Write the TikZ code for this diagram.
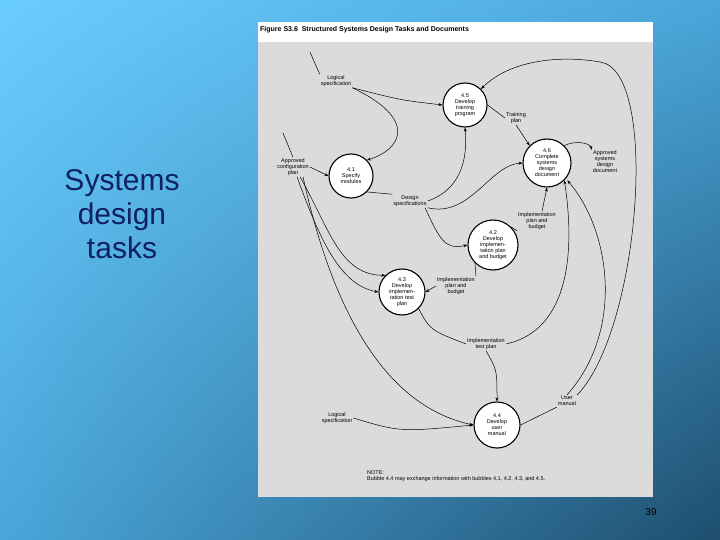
\documentclass[tikz,border=0pt]{standalone}
\usepackage{fontspec}
\setmainfont{Liberation Sans}
\usetikzlibrary{arrows.meta,shadings}
\definecolor{bgA}{HTML}{6ACDFF}
\definecolor{bgB}{HTML}{4AA6DA}
\definecolor{bgC}{HTML}{1E4E6E}
\definecolor{sidetxt}{HTML}{102060}
\begin{document}
\begin{tikzpicture}[x=1pt,y=-1pt,
 bub/.style={circle,draw,line width=1.1pt,fill=white,align=center,font=\fontsize{5.5}{6}\selectfont,inner sep=0pt},
 lab/.style={align=center,font=\fontsize{5.5}{6}\selectfont,inner sep=1pt},
 fl/.style={draw,line width=0.5pt,-{Stealth[length=4pt,width=3pt]}},
 ln/.style={draw,line width=0.5pt}]
\shade[upper left=bgA, upper right=bgB, lower left=bgB, lower right=bgC] (0,0) rectangle (720,540);
\useasboundingbox (0,0) rectangle (720,540);
\fill[white] (258,22) rectangle (653,42);
\fill[gray!28] (258,42) rectangle (653,497);
\node[anchor=west,font=\bfseries\fontsize{7}{8}\selectfont,inner sep=0pt] (title) at (260,30) {Figure S3.6\ \ Structured Systems Design Tasks and Documents};
\node[font=\fontsize{30}{34}\selectfont,align=center,text=sidetxt] (side) at (122,214) {Systems\\design\\tasks};
\node[font=\fontsize{10}{12}\selectfont] (pg) at (651,512) {39};
% bubbles
\node[bub,minimum size=44pt] (b45) at (465,105) {4.5\\Develop\\training\\program};
\node[bub,minimum size=48pt] (b46) at (547,163) {4.6\\Complete\\systems\\design\\document};
\node[bub,minimum size=44pt] (b41) at (351,176) {4.1\\Specify\\modules};
\node[bub,minimum size=50pt] (b42) at (493,245) {4.2\\Develop\\implemen-\\tation plan\\and budget};
\node[bub,minimum size=46pt] (b43) at (402,292) {4.3\\Develop\\implemen-\\tation test\\plan};
\node[bub,minimum size=46pt] (b44) at (497,425) {4.4\\Develop\\user\\manual};
% labels
\node[lab] (ls1) at (336,81) {Logical\\specification};
\node[lab] (tp) at (516,118) {Training\\plan};
\node[lab] (asd) at (605,162) {Approved\\systems\\design\\document};
\node[lab] (acp) at (293,167) {Approved\\configuration\\plan};
\node[lab] (ds) at (410,201) {Design\\specifications};
\node[lab] (ipb1) at (537,221) {Implementation\\plan and\\budget};
\node[lab] (ipb2) at (456,286) {Implementation\\plan and\\budget};
\node[lab] (itp) at (486,344) {Implementation\\test plan};
\node[lab] (um) at (567,401) {User\\manual};
\node[lab] (ls2) at (337,418) {Logical\\specification};
\node[lab,anchor=north west,align=left] (note) at (366,469) {NOTE:\\Bubble 4.4 may exchange information with bubbles 4.1, 4.2, 4.3, and 4.5.};
\coordinate (e1) at (310,52);
\coordinate (e2) at (283,133);
% connectors
\draw[ln] (e1) -- (ls1.north west);
\draw[fl] (ls1.south east) .. controls (400,100) .. (b45.west);
\draw[fl] (ls1.south east) .. controls (420,120) and (400,150) .. (b41.north east);
\draw[ln] (e2) -- (acp.north);
\draw[fl] (acp.east) -- (b41.west);
\draw[fl] (acp.south) ++(4,0) .. controls (320,240) and (340,285) .. (b43.west);
\draw[fl] (acp.south) ++(7,0) .. controls (330,230) and (340,275) .. (b43.north west);
\draw[fl] (acp.south) ++(10,0) .. controls (330,300) and (380,405) .. (b44.west);
\draw[ln] (b41.south east) -- (ds.north west);
\draw[fl] (ds.east) .. controls (460,190) and (468,160) .. (b45.south);
\draw[fl] (ds.south east) .. controls (470,218) and (490,165) .. (b46.west);
\draw[fl] (ds.south) ++(15,0) .. controls (440,240) and (445,250) .. (b42.west);
\draw[ln] (b45.east) -- (tp.west);
\draw[fl] (tp.south) -- (b46.north west);
\draw[fl] (b46.north east) .. controls (575,140) and (590,143) .. (asd.north west);
\draw[ln] (b42.north east) -- (ipb1.south west);
\draw[fl] (ipb1.north) ++(5,0) -- (b46.south);
\draw[ln] (b42.south west) -- (ipb2.north east);
\draw[fl] (ipb2.west) -- (b43.east);
\draw[ln] (b43.south east) .. controls (430,330) .. (itp.west);
\draw[fl] (itp.east) .. controls (570,330) and (575,250) .. (b46.south east);
\draw[fl] (itp.south) .. controls (497,370) .. (b44.north);
\draw[fl] (ls2.east) .. controls (400,432) .. (b44.west);
\draw[ln] (b44.east) -- (um.south west);
\draw[fl] (um.north) .. controls (625,330) and (610,230) .. ([xshift=3pt]b46.south east);
\draw[fl] (um.north east) .. controls (640,330) and (660,70) .. (600,62) .. controls (560,55) and (510,60) .. (b45.north east);
\end{tikzpicture}
\end{document}
